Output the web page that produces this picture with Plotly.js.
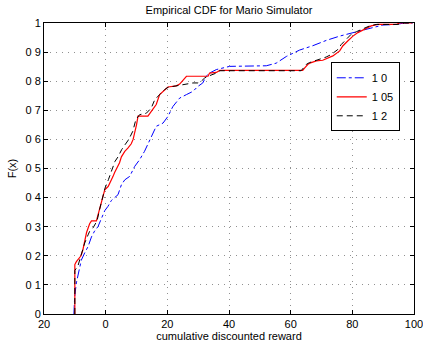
<!DOCTYPE html>
<html>
<head>
<meta charset="utf-8">
<script src="https://cdn.plot.ly/plotly-3.0.1.min.js"></script>
<style>html,body{margin:0;padding:0;background:#fff;}#chart{width:423px;height:343px;}</style>
</head>
<body>
<div id="chart"></div>
<script>
// Series names (as printed in the legend)
var seriesNames = ["1 0", "1 05", "1 2"];

// Series "1 0" (blue, dash-dot)
var x10 = [-10.3,-10.05,-9.5,-9.0,-8.4,-7.9,-6.8,-5.7,-4.6,-3.6,-2.5,-1.4,-0.3,0.75,1.85,4.0,5.1,6.2,7.8,9.4,11.0,12.6,14.3,15.3,16.4,18.6,20.2,21.8,24.0,26.2,28.3,29.9,31.5,32.6,33.7,35.9,40.2,52.1,55.3,58.6,60.7,62.9,67.2,71.5,75.9,80.2,83.4,86.6,89.9,94.2,96.9,99.6];
var y10 = [0,0.06,0.107,0.13,0.16,0.185,0.21,0.232,0.265,0.285,0.30,0.325,0.355,0.37,0.39,0.41,0.444,0.461,0.473,0.507,0.53,0.559,0.60,0.62,0.645,0.656,0.679,0.713,0.742,0.754,0.765,0.782,0.794,0.817,0.828,0.84,0.851,0.853,0.862,0.885,0.897,0.907,0.922,0.94,0.955,0.967,0.975,0.984,0.993,0.995,1.0,1.0];

// Series "1 05" (red, solid)
var x105 = [-10,-10,-9.5,-8.0,-7.4,-6.8,-6.2,-5.2,-4.6,-3.0,-2.5,-1.9,-0.9,-0.3,0.8,1.9,2.4,2.9,4.0,4.5,5.1,6.2,7.2,8.3,8.9,9.4,10.0,10.5,13.7,14.8,16.4,17.5,19.1,20.2,22.9,24.0,26.2,33.2,33.7,35.9,37.0,63.9,64.5,65.6,66.7,68.3,70.4,72.1,73.7,75.9,76.9,78.5,80.2,81.8,84.0,86.1,88.3,94.2,95.3,99.5];
var y105 = [0,0.17,0.18,0.20,0.22,0.25,0.28,0.31,0.32,0.32,0.34,0.36,0.40,0.427,0.438,0.46,0.473,0.486,0.507,0.52,0.54,0.559,0.57,0.585,0.60,0.62,0.65,0.68,0.68,0.696,0.72,0.754,0.77,0.78,0.784,0.79,0.817,0.817,0.828,0.83,0.837,0.837,0.845,0.858,0.864,0.87,0.872,0.88,0.887,0.904,0.921,0.938,0.955,0.967,0.978,0.99,0.995,0.995,1.0,1.0];

// Series "1 2" (black, dashed)
var x12 = [-10,-10,-9.0,-8.4,-7.9,-6.8,-5.7,-5.2,-4.1,-2.8,-2.0,-1.0,-0.2,0.9,1.5,2.0,3.0,4.0,5.2,6.3,7.5,8.8,9.8,11.0,13.2,14.8,15.9,17.5,19.1,20.2,25.6,28.3,29.9,31.0,32.1,33.2,35.9,37.0,63.4,65.1,66.1,68.3,71.5,73.2,75.3,76.4,78.0,79.6,81.3,82.9,85.6,87.7,94.8,96.9,99.5];
var y12 = [0,0.15,0.165,0.187,0.21,0.244,0.272,0.284,0.296,0.32,0.358,0.40,0.433,0.462,0.479,0.496,0.524,0.54,0.565,0.582,0.60,0.628,0.668,0.685,0.69,0.708,0.736,0.754,0.771,0.779,0.788,0.794,0.794,0.80,0.811,0.817,0.828,0.836,0.836,0.858,0.864,0.872,0.883,0.892,0.909,0.926,0.944,0.961,0.97,0.978,0.99,0.995,0.995,1.0,1.0];

// Tick labels as printed
var xTickVals = [-20, 0, 20, 40, 60, 80, 100];
var xTickText = ["20", "0", "20", "40", "60", "80", "100"];
var yTickVals = [0, 0.1, 0.2, 0.3, 0.4, 0.5, 0.6, 0.7, 0.8, 0.9, 1];
var yTickText = ["0", "0 1", "0 2", "0 3", "0 4", "0 5", "0 6", "0 7", "0 8", "0 9", "1"];

var FONT = "Liberation Sans, Arial, Helvetica, sans-serif";

var traces = [
  {x: x10, y: y10, name: seriesNames[0], mode: "lines", line: {color: "#0000ff", width: 1, dash: "dashdot"}},
  {x: x105, y: y105, name: seriesNames[1], mode: "lines", line: {color: "#ff0000", width: 1.2, dash: "solid"}},
  {x: x12, y: y12, name: seriesNames[2], mode: "lines", line: {color: "#000000", width: 1, dash: "6px,4px"}}
];

var axisCommon = {
  showline: true, linecolor: "#000", linewidth: 1, mirror: "ticks",
  ticks: "inside", ticklen: 4, tickcolor: "#000", tickwidth: 1,
  showgrid: true, gridcolor: "#909090", griddash: "1px,5px", gridwidth: 1,
  zeroline: false, tickfont: {family: FONT, size: 11, color: "#000"},
  ticklabeloverflow: "allow",
  fixedrange: true, automargin: false
};

var layout = {
  width: 423, height: 343,
  margin: {l: 44, r: 9, t: 23, b: 29, pad: 0},
  paper_bgcolor: "#fff", plot_bgcolor: "#fff",
  font: {family: FONT, size: 11, color: "#000"},
  title: {text: "Empirical CDF for Mario Simulator", font: {family: FONT, size: 11, color: "#000"},
          x: 0.5, xref: "paper", y: 0.971, yref: "container", yanchor: "middle"},
  xaxis: Object.assign({}, axisCommon, {
    range: [-20, 100], tickmode: "array", tickvals: xTickVals, ticktext: xTickText,
    title: {text: "cumulative discounted reward", font: {family: FONT, size: 11, color: "#000"}, standoff: 2}
  }),
  yaxis: Object.assign({}, axisCommon, {
    range: [0, 1], tickmode: "array", tickvals: yTickVals, ticktext: yTickText,
    title: {text: "F(x)", font: {family: FONT, size: 11, color: "#000"}, standoff: 6}
  }),
  showlegend: true,
  legend: {
    x: 0.775, y: 0.865, xanchor: "left", yanchor: "top",
    bgcolor: "#fff", bordercolor: "#000", borderwidth: 1,
    font: {family: FONT, size: 11, color: "#000"},
    tracegroupgap: 0, itemwidth: 30
  }
};

Plotly.newPlot("chart", traces, layout, {staticPlot: true, displayModeBar: false});
</script>
</body>
</html>
